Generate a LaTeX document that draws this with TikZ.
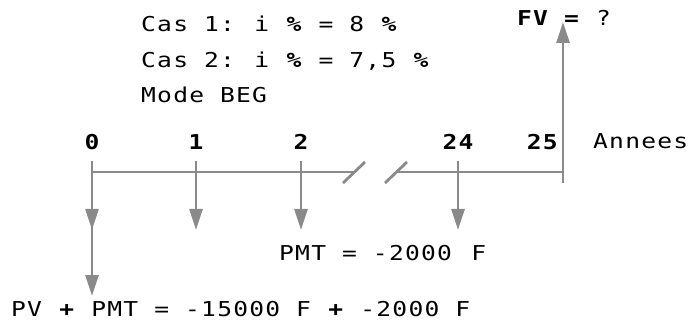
\documentclass[tikz,border=0pt]{standalone}
\usepackage{fontspec}
\setmonofont{DejaVu Sans Mono}[FakeStretch=1.2,LetterSpace=6]
\usetikzlibrary{arrows.meta}
\definecolor{linegray}{HTML}{8A8A8A}
\tikzset{
  axisline/.style={draw=linegray,line width=2.8pt},
  flow/.style={-{Triangle[length=21pt,width=13pt]},draw=linegray,line width=2.8pt},
  textlabel/.style={font=\ttfamily\fontsize{20.5}{25}\selectfont,inner sep=0pt,anchor=base west},
  yearlabel/.style={font=\ttfamily\bfseries\fontsize{20.5}{25}\selectfont,inner sep=0pt,anchor=base}
}
\begin{document}
\begin{tikzpicture}[x=1pt,y=-1pt]
  \useasboundingbox (0,0) rectangle (688,323);
  % time axis
  \coordinate (t0) at (92,172);
  \coordinate (t25) at (563,172);
  \coordinate (cutl) at (354,172);
  \coordinate (cutr) at (396,172);
  \draw[axisline] (t0) -- (cutl);
  \draw[axisline] (cutr) -- (t25);
  \draw[axisline] (343,183) -- (365,162);
  \draw[axisline] (385,183) -- (407,162);
  % payments
  \coordinate (a0) at (92,161);   \coordinate (p0) at (92,230);  \coordinate (q0) at (92,296);
  \coordinate (a1) at (196,161);  \coordinate (p1) at (196,230);
  \coordinate (a2) at (301,161);  \coordinate (p2) at (301,230);
  \coordinate (a24) at (458,161); \coordinate (p24) at (458,230);
  \coordinate (b25) at (563,183); \coordinate (fv) at (563,22);
  \draw[flow] (a0) -- (p0);
  \draw[flow] (a0) -- (q0);
  \draw[flow] (a1) -- (p1);
  \draw[flow] (a2) -- (p2);
  \draw[flow] (a24) -- (p24);
  \draw[flow] (b25) -- (fv);
  % years
  \node[yearlabel] (y0) at (92,150) {0};
  \node[yearlabel] (y1) at (196,150) {1};
  \node[yearlabel] (y2) at (301,150) {2};
  \node[yearlabel] (y24) at (458,150) {24};
  \node[yearlabel,anchor=base east] (y25) at (558,150) {25};
  \node[textlabel] (ans) at (593,149) {Annees};
  % texts
  \node[textlabel] (cas1) at (141,32) {Cas 1:\, i \textbf{\%} = 8 \textbf{\%}};
  \node[textlabel] (cas2) at (141,68) {Cas 2:\, i \textbf{\%} = 7,5 \textbf{\%}};
  \node[textlabel] (mode) at (141,103) {Mode BEG};
  \node[textlabel,anchor=base] (fvl) at (564,26) {\textbf{FV =} ?};
  \node[textlabel] (pmt) at (279,261) {PMT = -2000\, F};
  \node[textlabel] (pv) at (11,316) {PV \textbf{+} PMT = -15000 F \textbf{+} -2000 F};
\end{tikzpicture}
\end{document}
